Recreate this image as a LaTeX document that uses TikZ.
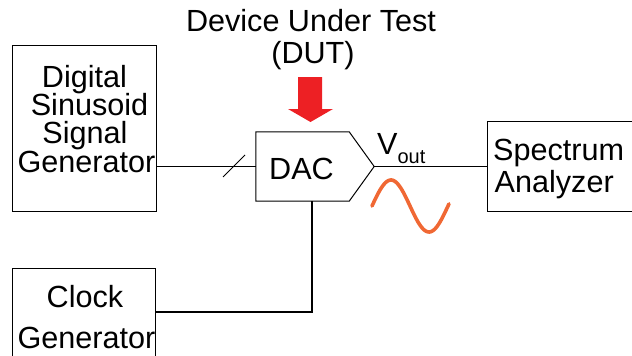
\documentclass[tikz,border=0pt]{standalone}
\usepackage{fontspec}
\setmainfont{Liberation Sans}
\definecolor{dutred}{RGB}{237,32,36}
\definecolor{sineorange}{RGB}{240,104,52}
\begin{document}
\begin{tikzpicture}[x=1pt,y=-1pt,
  txt/.style={inner sep=0pt, font=\fontsize{30.6}{30}\selectfont},
  blk/.style={draw=black, line width=1pt, inner sep=0pt},
  wire/.style={draw=black, line width=1.1pt},
  thickwire/.style={draw=black, line width=1.7pt}]
\useasboundingbox (0,0) rectangle (632,356);
\clip (0,0) rectangle (632,356);
% title
\node[txt, anchor=base] (t1) at (311,31) {Device Under Test};
\node[txt, anchor=base] (t2) at (313,63) {(DUT)};
% red arrow
\fill[dutred] (298,77) -- (322,77) -- (322,109) -- (333,109) -- (310.5,122) -- (288,109) -- (298,109) -- cycle;
% digital sinusoid signal generator
\node[blk, minimum width=144pt, minimum height=166pt] (dsg) at (84,128) {};
\node[txt, anchor=base] (d1) at (84.5,87) {Digital};
\node[txt, anchor=base] (d2) at (89.5,115) {Sinusoid};
\node[txt, anchor=base] (d3) at (85,143) {Signal};
\node[txt, anchor=base] (d4) at (86.5,172) {Generator};
% clock generator
\node[blk, minimum width=143pt, minimum height=110pt, anchor=north west] (clk) at (12,268) {};
\node[txt, anchor=base] (c1) at (85,307) {Clock};
\node[txt, anchor=base] (c2) at (86.5,348) {Generator};
% spectrum analyzer
\node[blk, minimum width=160pt, minimum height=90pt, anchor=north west] (spa) at (487,121) {};
\node[txt, anchor=base west] (s1) at (493,160) {Spectrum};
\node[txt, anchor=base west] (s2) at (494.5,192) {Analyzer};
% DAC
\node[minimum width=118pt, minimum height=69pt, inner sep=0pt] (dac) at (315,166.5) {};
\draw[line width=1pt] (dac.north west) -- ([xshift=-25pt]dac.north east) -- (dac.east)
  -- ([xshift=-25pt]dac.south east) -- (dac.south west) -- cycle;
\node[txt, anchor=base] (dactxt) at (301.5,179) {DAC};
% connectors
\draw[wire] (dsg.east |- dac.west) -- (dac.west);
\coordinate (sl1) at (223,177);
\coordinate (sl2) at (245,155);
\draw[line width=0.9pt] (sl1) -- (sl2);
\draw[wire] (dac.east) -- (dac.east -| spa.west);
\draw[thickwire] ([xshift=56pt]dac.south west) |- (clk.east |- 0,312);
% Vout
\node[txt, anchor=base west] (vout) at (377,154) {V\raisebox{-9pt}{\fontsize{20}{20}\selectfont out}};
% sine
\draw[sineorange, line width=3.6pt, line cap=round, domain=0:77, samples=60, smooth]
  plot ({372+\x}, {206 - 26*sin(4.7368*\x)});
\end{tikzpicture}
\end{document}
